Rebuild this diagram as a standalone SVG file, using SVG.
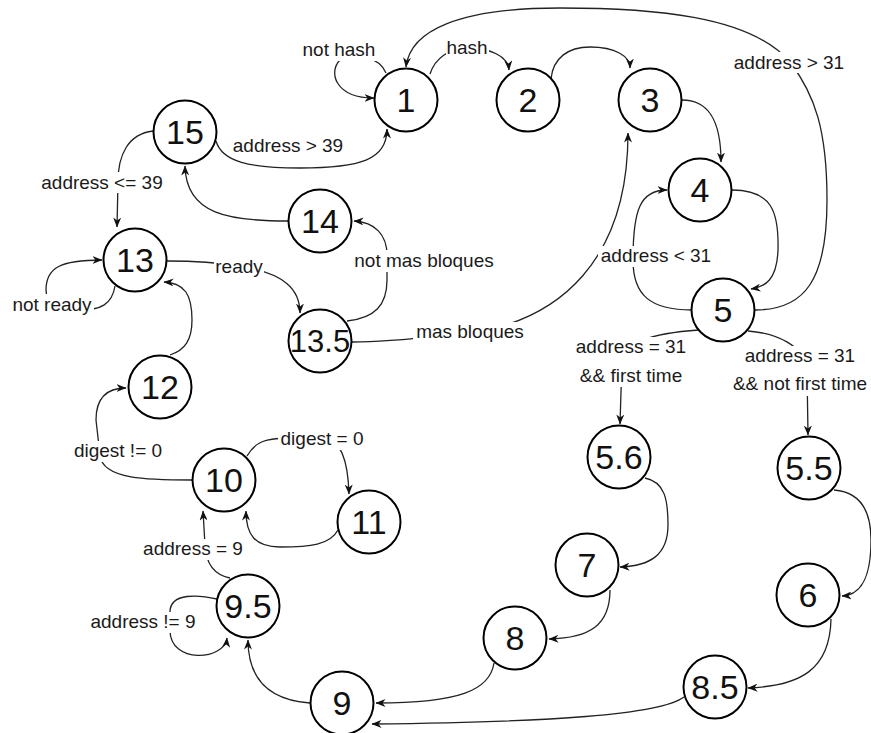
<svg xmlns="http://www.w3.org/2000/svg" width="871" height="733" viewBox="0 0 871 733">
<defs>
<marker id="arr" viewBox="0 0 10 8" refX="9.5" refY="4" markerWidth="10" markerHeight="8" markerUnits="userSpaceOnUse" orient="auto">
<path d="M0,0 L10,4 L0,8 L3,4 z" fill="#111"/>
</marker>
<style>
.node circle{fill:#fff;stroke:#000;stroke-width:2}
.node text{font-family:"Liberation Sans",Arial,sans-serif;font-size:34px;fill:#111;text-anchor:middle}
.e{fill:none;stroke:#222;stroke-width:1.3;marker-end:url(#arr)}
.lb rect{fill:#fff}
.lb text{font-family:"Liberation Sans",Arial,sans-serif;font-size:19px;fill:#1a1a1a;text-anchor:middle}
</style>
</defs>
<rect width="871" height="733" fill="#fff"/>
<g id="connectors">
<path class="e" d="M386 73 C380 58 355 50 340 60 C328 72 335 98 374 98"/>
<path class="e" d="M430 74 C435 58 450 48 467 48 C490 48 508 56 509 70"/>
<path class="e" d="M551 79 C553 58 568 47 590 47 C615 47 630 56 630 68"/>
<path class="e" d="M682 100 C705 100 721 115 721 162"/>
<path class="e" d="M732 190 C772 190 779 212 778 250 C777 280 765 287 751 289"/>
<path class="e" d="M692 310 C650 310 633 295 633 260 C633 210 640 190 667 190"/>
<path class="e" d="M755 310 C805 310 827 280 827 200 C827 130 815 95 790 62 C750 15 650 8 560 8 C460 8 410 30 406 67"/>
<path class="e" d="M216 141 C222 162 250 168 300 168 C360 168 387 160 387 129"/>
<path class="e" d="M153 131 C128 134 118 155 118 182 L117 227"/>
<path class="e" d="M288 221 C230 221 186 215 185 166"/>
<path class="e" d="M115 286 C112 305 100 310 80 310 C55 310 46 302 46 290 C46 268 60 260 102 260"/>
<path class="e" d="M167 261 C195 261 215 262 239 266 C285 273 300 290 300 313"/>
<path class="e" d="M347 321 C375 318 387 305 387 280 L387 255 C387 235 375 222 354 221"/>
<path class="e" d="M352 342 C390 342 420 338 470 333 C560 320 628 260 628 133"/>
<path class="e" d="M699 330 C670 332 624 338 622 360 L620 424"/>
<path class="e" d="M748 331 C775 333 805 345 807 370 L808 435"/>
<path class="e" d="M645 478 C665 482 668 500 668 525 C668 555 650 566 620 567"/>
<path class="e" d="M610 590 C610 625 590 638 549 639"/>
<path class="e" d="M494 663 C490 690 460 703 376 703"/>
<path class="e" d="M834 490 C860 492 871 510 871 540 C871 580 860 595 842 596"/>
<path class="e" d="M831 619 C830 670 800 686 748 688"/>
<path class="e" d="M684 697 C660 715 550 722 372 724"/>
<path class="e" d="M310 703 C270 700 248 680 248 640"/>
<path class="e" d="M217 599 C200 595 170 592 170 612 L170 630 C170 665 225 660 227 638"/>
<path class="e" d="M230 578 C215 575 206 565 205 545 L203 511"/>
<path class="e" d="M338 530 C330 545 310 547 280 547 C255 547 246 535 246 511"/>
<path class="e" d="M247 456 C255 442 265 438 290 438 L325 438 C340 440 348 460 349 494"/>
<path class="e" d="M192 480 C150 480 102 480 100 455 L96 420 C96 400 105 388 126 388"/>
<path class="e" d="M170 355 C185 350 192 340 192 320 C192 295 185 283 164 282"/>
</g>
<g id="labels">
<g class="lb"><rect x="302" y="40" width="74" height="21"/><text x="339" y="56">not hash</text></g>
<g class="lb"><rect x="446" y="38" width="43" height="20"/><text x="467" y="54">hash</text></g>
<g class="lb"><rect x="733" y="52" width="113" height="21"/><text x="789" y="69">address &gt; 31</text></g>
<g class="lb"><rect x="231" y="135" width="114" height="21"/><text x="288" y="152">address &gt; 39</text></g>
<g class="lb"><rect x="39" y="172" width="126" height="21"/><text x="102" y="189">address &lt;= 39</text></g>
<g class="lb"><rect x="214" y="258" width="50" height="21"/><text x="239" y="273">ready</text></g>
<g class="lb"><rect x="10" y="294" width="84" height="22"/><text x="52" y="311">not ready</text></g>
<g class="lb"><rect x="351" y="250" width="146" height="22"/><text x="424" y="267">not mas bloques</text></g>
<g class="lb"><rect x="413" y="322" width="114" height="21"/><text x="470" y="338">mas bloques</text></g>
<g class="lb"><rect x="598" y="246" width="116" height="21"/><text x="656" y="262">address &lt; 31</text></g>
<g class="lb"><rect x="573" y="337" width="116" height="50"/><text x="631" y="353">address = 31</text><text x="631" y="382">&amp;&amp; first time</text></g>
<g class="lb"><rect x="731" y="346" width="136" height="50"/><text x="800" y="362">address = 31</text><text x="800" y="390">&amp;&amp; not first time</text></g>
<g class="lb"><rect x="278" y="429" width="87" height="21"/><text x="322" y="445">digest = 0</text></g>
<g class="lb"><rect x="71" y="441" width="94" height="21"/><text x="118" y="457">digest != 0</text></g>
<g class="lb"><rect x="140" y="539" width="105" height="21"/><text x="193" y="555">address = 9</text></g>
<g class="lb"><rect x="88" y="612" width="111" height="21"/><text x="143" y="628">address != 9</text></g>
</g>
<g id="n1" class="node"><circle cx="406" cy="100" r="31.5"/><text x="406" y="112">1</text></g>
<g id="n2" class="node"><circle cx="528" cy="100" r="31.5"/><text x="528" y="112">2</text></g>
<g id="n3" class="node"><circle cx="650" cy="100" r="31.5"/><text x="650" y="112">3</text></g>
<g id="n4" class="node"><circle cx="700" cy="190" r="31.5"/><text x="700" y="202">4</text></g>
<g id="n5" class="node"><circle cx="723" cy="310" r="31.5"/><text x="723" y="322">5</text></g>
<g id="n15" class="node"><circle cx="185" cy="132" r="31.5"/><text x="185" y="144">15</text></g>
<g id="n14" class="node"><circle cx="320" cy="221" r="31.5"/><text x="320" y="233">14</text></g>
<g id="n13" class="node"><circle cx="135" cy="260" r="31.5"/><text x="135" y="272">13</text></g>
<g id="n13_5" class="node"><circle cx="320" cy="341" r="31.5"/><text x="320" y="352" style="font-size:31px">13.5</text></g>
<g id="n12" class="node"><circle cx="160" cy="387" r="31.5"/><text x="160" y="399">12</text></g>
<g id="n10" class="node"><circle cx="224" cy="480" r="31.5"/><text x="224" y="492">10</text></g>
<g id="n11" class="node"><circle cx="369" cy="522" r="31.5"/><text x="369" y="534">11</text></g>
<g id="n9_5" class="node"><circle cx="248" cy="606" r="31.5"/><text x="248" y="618">9.5</text></g>
<g id="n9" class="node"><circle cx="342" cy="703" r="31.5"/><text x="342" y="715">9</text></g>
<g id="n5_6" class="node"><circle cx="619" cy="457" r="31.5"/><text x="619" y="469">5.6</text></g>
<g id="n5_5" class="node"><circle cx="809" cy="468" r="31.5"/><text x="809" y="480">5.5</text></g>
<g id="n7" class="node"><circle cx="587" cy="565" r="31.5"/><text x="587" y="577">7</text></g>
<g id="n8" class="node"><circle cx="515" cy="638" r="31.5"/><text x="515" y="650">8</text></g>
<g id="n6" class="node"><circle cx="808" cy="595" r="31.5"/><text x="808" y="607">6</text></g>
<g id="n8_5" class="node"><circle cx="715" cy="687" r="31.5"/><text x="715" y="699">8.5</text></g>
</svg>
